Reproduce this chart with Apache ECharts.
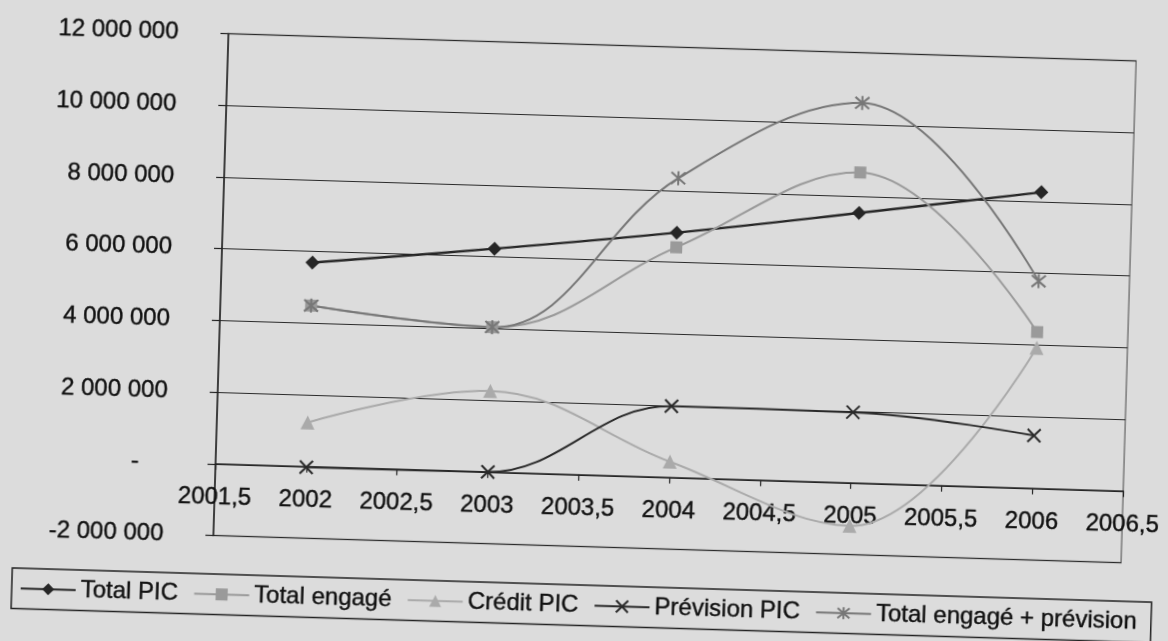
<!DOCTYPE html>
<html>
<head>
<meta charset="utf-8">
<script src="https://cdn.jsdelivr.net/npm/echarts@6/dist/echarts.min.js"></script>
<style>
  html, body { margin: 0; padding: 0; background: #dcdcdc; overflow: hidden; }
  #chart { width: 1168px; height: 641px; transform: rotate(1.72deg); transform-origin: 50% 50%; }
</style>
</head>
<body>
<div id="chart"></div>
<script>
// Years and amounts per series
const years = [2002, 2003, 2004, 2005, 2006];
const totalPic = [5690000, 6230000, 6830000, 7530000, 8260000];
const totalEngage = [4490000, 4040000, 6420000, 8660000, 4360000];
const creditPic = [1230000, 2260000, 440000, -1200000, 3920000];
const previsionPic = [-20000, 0, 1990000, 1970000, 1470000];
const engagePlusPrevision = [4490000, 4040000, 8350000, 10600000, 5780000];

// Axis ranges
const xRange = [2001.5, 2006.5, 0.5];
const yRange = [-2000000, 12000000, 2000000];

const FONT = 'Liberation Sans, Arial, sans-serif';
const TEXT = '#111111';
const pairs = vals => years.map((y, i) => [y, vals[i]]);

function fmtAmount(v) {
  if (v === 0) return '-    ';
  const s = Math.abs(v).toString().replace(/\B(?=(\d{3})+(?!\d))/g, ' ');
  return (v < 0 ? '-' : '') + s;
}

const CROSS = 'path://M0 0L10 10M10 0L0 10';
const STAR = 'path://M5 -1L5 11M0 0L10 10M10 0L0 10';

function line(name, vals, color, width, symbol, size, extraItem) {
  return {
    name, type: 'line', data: pairs(vals),
    smooth: 0.38,
    symbol, symbolSize: size,
    lineStyle: { color, width },
    itemStyle: Object.assign({ color }, extraItem || {}),
    emphasis: { disabled: true },
    z: 3
  };
}

const chart = echarts.init(document.getElementById('chart'), null, { renderer: 'canvas' });

const plotTop = 44.5, plotBottom = 94.5, plotH = 641 - plotTop - plotBottom;
// distance from the bottom edge of the plot up to the zero line
const zeroOffset = plotH * (0 - yRange[0]) / (yRange[1] - yRange[0]);

chart.setOption({
  animation: false,
  backgroundColor: 'transparent',
  grid: {
    left: 220, right: 34, top: plotTop, bottom: plotBottom,
    show: true, borderColor: '#7a7a7a', borderWidth: 1.5, backgroundColor: 'transparent'
  },
  xAxis: {
    type: 'value', min: xRange[0], max: xRange[1], interval: xRange[2],
    position: 'bottom', offset: -zeroOffset,
    axisLine: { show: true, onZero: false, lineStyle: { color: '#222', width: 1.5 } },
    axisTick: { show: true, length: 6, lineStyle: { color: '#222', width: 1.2 } },
    splitLine: { show: false },
    axisLabel: {
      formatter: v => String(v).replace('.', ','),
      fontSize: 24, color: TEXT, fontFamily: FONT, margin: 22,
      textBorderColor: TEXT, textBorderWidth: 0.4,
      showMinLabel: true, showMaxLabel: true
    }
  },
  yAxis: {
    type: 'value', min: yRange[0], max: yRange[1], interval: yRange[2],
    axisLine: { show: true, onZero: false, lineStyle: { color: '#222', width: 1.5 } },
    axisTick: { show: true, length: 8, lineStyle: { color: '#222', width: 1.2 } },
    splitLine: { show: true, lineStyle: { color: '#2a2a2a', width: 1.2 } },
    axisLabel: {
      formatter: fmtAmount, fontSize: 24, color: TEXT, fontFamily: FONT, margin: 50,
      textBorderColor: TEXT, textBorderWidth: 0.4
    }
  },
  legend: {
    left: 20, top: 585, orient: 'horizontal',
    itemWidth: 55, itemHeight: 15, itemGap: 15,
    padding: [8, 14, 8, 8],
    borderColor: '#222', borderWidth: 1.5,
    textStyle: { fontSize: 24, color: TEXT, fontFamily: FONT, textBorderColor: TEXT, textBorderWidth: 0.4 },
    data: ['Total PIC', 'Total engagé', 'Crédit PIC', 'Prévision PIC', 'Total engagé + prévision']
  },
  series: [
    line('Total PIC', totalPic, '#262626', 2.4, 'diamond', 14),
    line('Total engagé', totalEngage, '#9a9a9a', 2, 'rect', 12),
    line('Crédit PIC', creditPic, '#aaaaaa', 2, 'triangle', 14),
    line('Prévision PIC', previsionPic, '#2a2a2a', 2, CROSS, 13,
      { borderColor: '#2a2a2a', borderWidth: 2 }),
    line('Total engagé + prévision', engagePlusPrevision, '#777777', 2, STAR, 14,
      { borderColor: '#777777', borderWidth: 2 })
  ]
});
</script>
</body>
</html>
